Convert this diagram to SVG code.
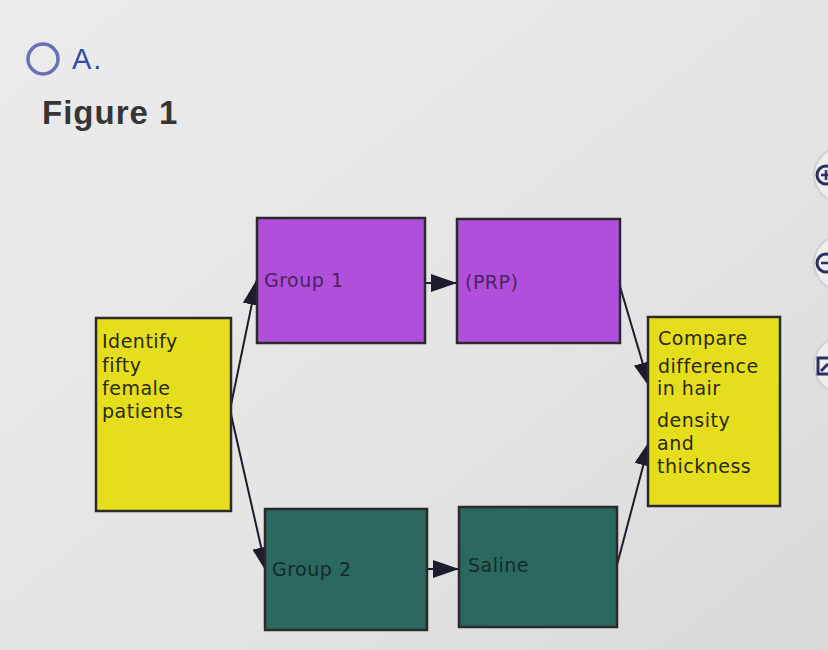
<svg xmlns="http://www.w3.org/2000/svg" width="828" height="650" viewBox="0 0 828 650">
<defs>
<linearGradient id="bg" x1="0" y1="0" x2="1" y2="1">
<stop offset="0" stop-color="#ebebeb"/>
<stop offset="0.6" stop-color="#e4e4e4"/>
<stop offset="1" stop-color="#d8d8d8"/>
</linearGradient>
<marker id="ah" viewBox="0 0 26 18" refX="26" refY="9" markerWidth="26" markerHeight="18" markerUnits="userSpaceOnUse" orient="auto">
<path d="M0,0 L26,9 L0,18 z" fill="#1c1c2c"/>
</marker>
<style>
.t{font-family:"DejaVu Sans",Verdana,sans-serif;font-size:19px;letter-spacing:0.5px}
.box{stroke:#2a2a2a;stroke-width:2.5}
.yel{fill:#e6de1c}
.pur{fill:#b14fdd}
.tea{fill:#2b685f}
.con{stroke:#1c1c2c;stroke-width:2;fill:none}
.btn{fill:#eeeeee;stroke:#d0d0d0;stroke-width:2}
</style>
</defs>
<rect width="828" height="650" fill="url(#bg)"/>
<g id="header">
<circle cx="43" cy="59" r="15" fill="none" stroke="#6a70b8" stroke-width="3.5"/>
<text x="72" y="69" style="font-family:'Liberation Sans',Arial,sans-serif;font-size:29px;letter-spacing:2px" fill="#3848a6">A.</text>
<text x="42" y="124" style="font-family:'Liberation Sans',Arial,sans-serif;font-size:33px;font-weight:bold;letter-spacing:1px" fill="#363636">Figure 1</text>
</g>
<g id="buttons">
<circle cx="842" cy="175" r="28" class="btn"/>
<circle cx="826" cy="175" r="9" fill="none" stroke="#2d3168" stroke-width="3"/>
<path d="M821,175 h10 M826,170 v10" stroke="#2d3168" stroke-width="2.5"/>
<circle cx="842" cy="263" r="28" class="btn"/>
<circle cx="826" cy="263" r="9" fill="none" stroke="#2d3168" stroke-width="3"/>
<path d="M821,263 h10" stroke="#2d3168" stroke-width="2.5"/>
<circle cx="842" cy="365" r="28" class="btn"/>
<path d="M828,358 h-10 v16 h10" fill="none" stroke="#2d3168" stroke-width="3"/>
<path d="M821,371 l7,-7" stroke="#2d3168" stroke-width="3"/>
</g>
<g id="connectors">
<line x1="230" y1="410" x2="257" y2="279" class="con" marker-end="url(#ah)"/>
<line x1="230" y1="410" x2="267" y2="573" class="con" marker-end="url(#ah)"/>
<line x1="425" y1="283" x2="457" y2="283" class="con" marker-end="url(#ah)"/>
<line x1="427" y1="569" x2="459" y2="569" class="con" marker-end="url(#ah)"/>
<line x1="619" y1="283" x2="650" y2="388" class="con" marker-end="url(#ah)"/>
<line x1="617" y1="565" x2="650" y2="440" class="con" marker-end="url(#ah)"/>
</g>
<g id="identify">
<rect x="96" y="318" width="135" height="193" class="box yel"/>
<text class="t" fill="#2a2a10"><tspan x="102" y="348">Identify</tspan><tspan x="102" y="372">fifty</tspan><tspan x="102" y="395">female</tspan><tspan x="102" y="418">patients</tspan></text>
</g>
<g id="group1">
<rect x="257" y="218" width="168" height="125" class="box pur"/>
<text x="264" y="287" class="t" fill="#4b2460">Group 1</text>
</g>
<g id="prp">
<rect x="457" y="219" width="163" height="124" class="box pur"/>
<text x="465" y="289" class="t" fill="#4b2460">(PRP)</text>
</g>
<g id="group2">
<rect x="265" y="509" width="162" height="121" class="box tea"/>
<text x="272" y="576" class="t" fill="#142c28">Group 2</text>
</g>
<g id="saline">
<rect x="459" y="507" width="158" height="120" class="box tea"/>
<text x="468" y="572" class="t" fill="#142c28">Saline</text>
</g>
<g id="compare">
<rect x="648" y="317" width="132" height="189" class="box yel"/>
<text class="t" fill="#2a2a10"><tspan x="658" y="345">Compare</tspan><tspan x="658" y="373">difference</tspan><tspan x="657" y="395">in hair</tspan><tspan x="657" y="427">density</tspan><tspan x="657" y="450">and</tspan><tspan x="657" y="473">thickness</tspan></text>
</g>
</svg>
